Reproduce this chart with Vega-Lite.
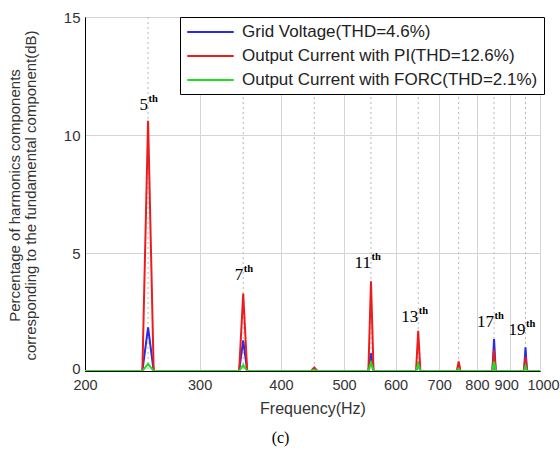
{
  "$schema": "https://vega.github.io/schema/vega-lite/v6.json",
  "width": 455,
  "height": 354,
  "autosize": {"type": "none"},
  "padding": {"left": 85, "top": 17, "right": 20, "bottom": 88},
  "background": "white",
  "config": {
    "view": {"stroke": "black", "strokeWidth": 1},
    "font": "Liberation Sans",
    "axis": {
      "domainColor": "black",
      "tickColor": "black",
      "gridColor": "#d4d4d4",
      "gridWidth": 1,
      "labelFont": "Liberation Sans",
      "labelColor": "#333333",
      "titleFont": "Liberation Sans",
      "titleColor": "#333333",
      "titleFontWeight": "normal"
    }
  },
  "title": {
    "text": "(c)",
    "orient": "bottom",
    "font": "Liberation Serif",
    "fontSize": 16,
    "fontWeight": "normal",
    "color": "black",
    "offset": 13,
    "dx": -32
  },
  "datasets": {
    "spectrum": [
      {"freq": 200, "value": 0, "series": "Grid Voltage(THD=4.6%)"},
      {"freq": 245, "value": 0, "series": "Grid Voltage(THD=4.6%)"},
      {"freq": 250, "value": 1.85, "series": "Grid Voltage(THD=4.6%)"},
      {"freq": 255, "value": 0, "series": "Grid Voltage(THD=4.6%)"},
      {"freq": 345, "value": 0, "series": "Grid Voltage(THD=4.6%)"},
      {"freq": 350, "value": 1.3, "series": "Grid Voltage(THD=4.6%)"},
      {"freq": 355, "value": 0, "series": "Grid Voltage(THD=4.6%)"},
      {"freq": 445, "value": 0, "series": "Grid Voltage(THD=4.6%)"},
      {"freq": 450, "value": 0.05, "series": "Grid Voltage(THD=4.6%)"},
      {"freq": 455, "value": 0, "series": "Grid Voltage(THD=4.6%)"},
      {"freq": 545, "value": 0, "series": "Grid Voltage(THD=4.6%)"},
      {"freq": 550, "value": 0.75, "series": "Grid Voltage(THD=4.6%)"},
      {"freq": 555, "value": 0, "series": "Grid Voltage(THD=4.6%)"},
      {"freq": 645, "value": 0, "series": "Grid Voltage(THD=4.6%)"},
      {"freq": 650, "value": 0.3, "series": "Grid Voltage(THD=4.6%)"},
      {"freq": 655, "value": 0, "series": "Grid Voltage(THD=4.6%)"},
      {"freq": 745, "value": 0, "series": "Grid Voltage(THD=4.6%)"},
      {"freq": 750, "value": 0.1, "series": "Grid Voltage(THD=4.6%)"},
      {"freq": 755, "value": 0, "series": "Grid Voltage(THD=4.6%)"},
      {"freq": 845, "value": 0, "series": "Grid Voltage(THD=4.6%)"},
      {"freq": 850, "value": 1.35, "series": "Grid Voltage(THD=4.6%)"},
      {"freq": 855, "value": 0, "series": "Grid Voltage(THD=4.6%)"},
      {"freq": 945, "value": 0, "series": "Grid Voltage(THD=4.6%)"},
      {"freq": 950, "value": 1.0, "series": "Grid Voltage(THD=4.6%)"},
      {"freq": 955, "value": 0, "series": "Grid Voltage(THD=4.6%)"},
      {"freq": 1000, "value": 0, "series": "Grid Voltage(THD=4.6%)"},

      {"freq": 200, "value": 0, "series": "Output Current with PI(THD=12.6%)"},
      {"freq": 245, "value": 0, "series": "Output Current with PI(THD=12.6%)"},
      {"freq": 250, "value": 10.6, "series": "Output Current with PI(THD=12.6%)"},
      {"freq": 255, "value": 0, "series": "Output Current with PI(THD=12.6%)"},
      {"freq": 345, "value": 0, "series": "Output Current with PI(THD=12.6%)"},
      {"freq": 350, "value": 3.28, "series": "Output Current with PI(THD=12.6%)"},
      {"freq": 355, "value": 0, "series": "Output Current with PI(THD=12.6%)"},
      {"freq": 445, "value": 0, "series": "Output Current with PI(THD=12.6%)"},
      {"freq": 450, "value": 0.15, "series": "Output Current with PI(THD=12.6%)"},
      {"freq": 455, "value": 0, "series": "Output Current with PI(THD=12.6%)"},
      {"freq": 545, "value": 0, "series": "Output Current with PI(THD=12.6%)"},
      {"freq": 550, "value": 3.8, "series": "Output Current with PI(THD=12.6%)"},
      {"freq": 555, "value": 0, "series": "Output Current with PI(THD=12.6%)"},
      {"freq": 645, "value": 0, "series": "Output Current with PI(THD=12.6%)"},
      {"freq": 650, "value": 1.7, "series": "Output Current with PI(THD=12.6%)"},
      {"freq": 655, "value": 0, "series": "Output Current with PI(THD=12.6%)"},
      {"freq": 745, "value": 0, "series": "Output Current with PI(THD=12.6%)"},
      {"freq": 750, "value": 0.4, "series": "Output Current with PI(THD=12.6%)"},
      {"freq": 755, "value": 0, "series": "Output Current with PI(THD=12.6%)"},
      {"freq": 845, "value": 0, "series": "Output Current with PI(THD=12.6%)"},
      {"freq": 850, "value": 0.9, "series": "Output Current with PI(THD=12.6%)"},
      {"freq": 855, "value": 0, "series": "Output Current with PI(THD=12.6%)"},
      {"freq": 945, "value": 0, "series": "Output Current with PI(THD=12.6%)"},
      {"freq": 950, "value": 0.6, "series": "Output Current with PI(THD=12.6%)"},
      {"freq": 955, "value": 0, "series": "Output Current with PI(THD=12.6%)"},
      {"freq": 1000, "value": 0, "series": "Output Current with PI(THD=12.6%)"},

      {"freq": 200, "value": 0, "series": "Output Current with FORC(THD=2.1%)"},
      {"freq": 245, "value": 0, "series": "Output Current with FORC(THD=2.1%)"},
      {"freq": 250, "value": 0.3, "series": "Output Current with FORC(THD=2.1%)"},
      {"freq": 255, "value": 0, "series": "Output Current with FORC(THD=2.1%)"},
      {"freq": 345, "value": 0, "series": "Output Current with FORC(THD=2.1%)"},
      {"freq": 350, "value": 0.25, "series": "Output Current with FORC(THD=2.1%)"},
      {"freq": 355, "value": 0, "series": "Output Current with FORC(THD=2.1%)"},
      {"freq": 445, "value": 0, "series": "Output Current with FORC(THD=2.1%)"},
      {"freq": 450, "value": 0.05, "series": "Output Current with FORC(THD=2.1%)"},
      {"freq": 455, "value": 0, "series": "Output Current with FORC(THD=2.1%)"},
      {"freq": 545, "value": 0, "series": "Output Current with FORC(THD=2.1%)"},
      {"freq": 550, "value": 0.35, "series": "Output Current with FORC(THD=2.1%)"},
      {"freq": 555, "value": 0, "series": "Output Current with FORC(THD=2.1%)"},
      {"freq": 645, "value": 0, "series": "Output Current with FORC(THD=2.1%)"},
      {"freq": 650, "value": 0.3, "series": "Output Current with FORC(THD=2.1%)"},
      {"freq": 655, "value": 0, "series": "Output Current with FORC(THD=2.1%)"},
      {"freq": 745, "value": 0, "series": "Output Current with FORC(THD=2.1%)"},
      {"freq": 750, "value": 0.1, "series": "Output Current with FORC(THD=2.1%)"},
      {"freq": 755, "value": 0, "series": "Output Current with FORC(THD=2.1%)"},
      {"freq": 845, "value": 0, "series": "Output Current with FORC(THD=2.1%)"},
      {"freq": 850, "value": 0.4, "series": "Output Current with FORC(THD=2.1%)"},
      {"freq": 855, "value": 0, "series": "Output Current with FORC(THD=2.1%)"},
      {"freq": 945, "value": 0, "series": "Output Current with FORC(THD=2.1%)"},
      {"freq": 950, "value": 0.2, "series": "Output Current with FORC(THD=2.1%)"},
      {"freq": 955, "value": 0, "series": "Output Current with FORC(THD=2.1%)"},
      {"freq": 1000, "value": 0, "series": "Output Current with FORC(THD=2.1%)"}
    ],
    "harmonicLines": [
      {"freq": 250}, {"freq": 350}, {"freq": 450}, {"freq": 550},
      {"freq": 650}, {"freq": 750}, {"freq": 850}, {"freq": 950}
    ],
    "labels": [
      {"freq": 250, "value": 11.05, "order": "5"},
      {"freq": 350, "value": 3.85, "order": "7"},
      {"freq": 550, "value": 4.35, "order": "11"},
      {"freq": 650, "value": 2.07, "order": "13"},
      {"freq": 850, "value": 1.86, "order": "17"},
      {"freq": 950, "value": 1.53, "order": "19"}
    ]
  },
  "layer": [
    {
      "data": {"name": "harmonicLines"},
      "mark": {"type": "rule", "color": "#b8b8b8", "strokeWidth": 1, "strokeDash": [2, 3]},
      "encoding": {
        "x": {"field": "freq", "type": "quantitative", "scale": {"type": "log", "domain": [200, 1000], "nice": false}}
      }
    },
    {
      "data": {"name": "spectrum"},
      "mark": {"type": "line", "strokeWidth": 2, "clip": true},
      "encoding": {
        "x": {
          "field": "freq",
          "type": "quantitative",
          "scale": {"type": "log", "domain": [200, 1000], "nice": false},
          "axis": {
            "title": "Frequency(Hz)",
            "values": [200, 300, 400, 500, 600, 700, 800, 900, 1000],
            "format": "d",
            "labelFontSize": 14.5,
            "labelPadding": 7,
            "labelFlush": false,
            "labelOffset": {"condition": [{"test": "datum.value == 900", "value": -4}, {"test": "datum.value == 1000", "value": 3}], "value": 0},
            "tickSize": 0,
            "titleFontSize": 16,
            "titlePadding": 9,
            "grid": true,
            "labelOverlap": false
          }
        },
        "y": {
          "field": "value",
          "type": "quantitative",
          "scale": {"domain": [0, 15], "nice": false},
          "axis": {
            "title": ["Percentage of harmonics components", "corresponding to the fundamental component(dB)"],
            "values": [0, 5, 10, 15],
            "labelFontSize": 15,
            "labelPadding": 5,
            "labelFlush": false,
            "labelOffset": {"condition": [{"test": "datum.value == 0", "value": -3}], "value": 0},
            "tickSize": 0,
            "titleFontSize": 15,
            "titleLineHeight": 16,
            "titleX": -71,
            "titleY": 178,
            "titleBaseline": "middle",
            "grid": true
          }
        },
        "color": {
          "field": "series",
          "type": "nominal",
          "sort": ["Grid Voltage(THD=4.6%)", "Output Current with PI(THD=12.6%)", "Output Current with FORC(THD=2.1%)"],
          "scale": {
            "domain": ["Grid Voltage(THD=4.6%)", "Output Current with PI(THD=12.6%)", "Output Current with FORC(THD=2.1%)"],
            "range": ["#2b2bdf", "#ec1c1c", "#22dd22"]
          },
          "legend": {
            "orient": "none",
            "legendX": 95,
            "legendY": 0,
            "title": null,
            "symbolType": "M-1,0H5",
            "symbolSize": 240,
            "symbolStrokeWidth": 2,
            "labelFontSize": 17,
            "labelFont": "Liberation Sans",
            "labelColor": "#222222",
            "labelLimit": 400,
            "labelOffset": 38,
            "strokeColor": "black",
            "fillColor": "white",
            "padding": 6,
            "rowPadding": 7
          }
        }
      }
    },
    {
      "data": {"name": "labels"},
      "mark": {"type": "text", "font": "Liberation Serif", "fontSize": 17, "align": "right", "baseline": "alphabetic", "color": "black"},
      "encoding": {
        "x": {"field": "freq", "type": "quantitative", "scale": {"type": "log", "domain": [200, 1000], "nice": false}},
        "y": {"field": "value", "type": "quantitative", "scale": {"domain": [0, 15], "nice": false}},
        "text": {"field": "order"}
      }
    },
    {
      "data": {"name": "labels"},
      "mark": {"type": "text", "font": "Liberation Serif", "fontSize": 10.5, "fontWeight": "bold", "align": "left", "baseline": "alphabetic", "dy": -8, "dx": 0.5, "color": "black", "text": "th"},
      "encoding": {
        "x": {"field": "freq", "type": "quantitative", "scale": {"type": "log", "domain": [200, 1000], "nice": false}},
        "y": {"field": "value", "type": "quantitative", "scale": {"domain": [0, 15], "nice": false}}
      }
    }
  ]
}
